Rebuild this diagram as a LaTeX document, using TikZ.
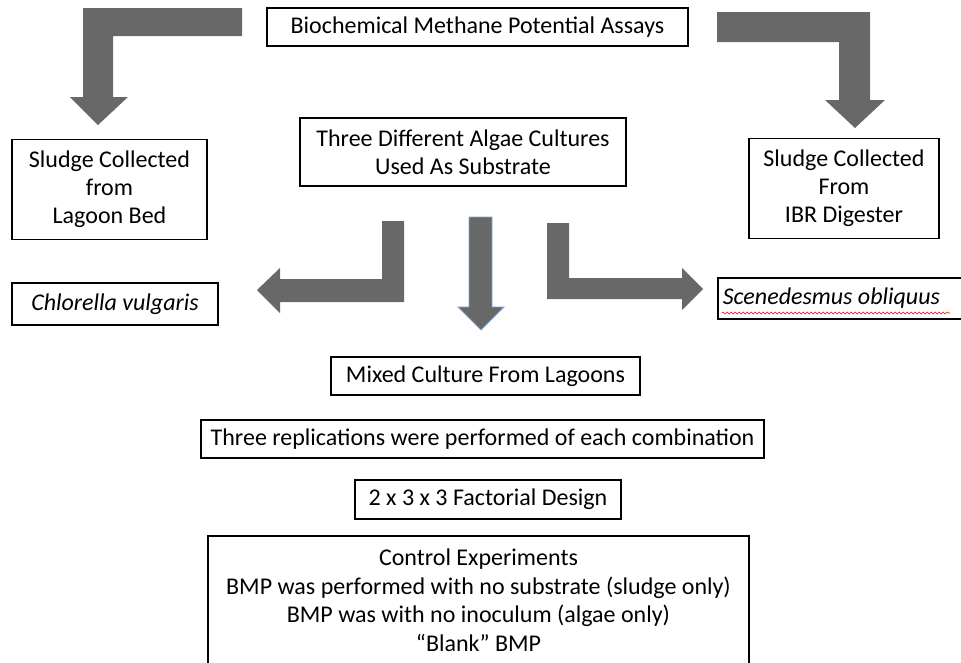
\documentclass[tikz,border=0pt]{standalone}
\usepackage{fontspec}
\setmainfont{Carlito}
\usetikzlibrary{decorations.pathmorphing}
\definecolor{arrowgray}{HTML}{686868}
\definecolor{arrowedge}{HTML}{7FA6D6}
\begin{document}
\begin{tikzpicture}[x=1pt,y=-1pt,
  box/.style={draw=black, line width=1.6pt, fill=white, align=center, inner sep=0pt,
    font=\fontsize{24}{28}\selectfont},
  fatarrow/.style={fill=arrowgray, draw=none}]
\clip (0,0) rectangle (961,662);
\fill[white] (0,0) rectangle (961,662);
% block arrows
\path[fatarrow] (242,8) -- (83,8) -- (83,97) -- (70,97) -- (98,125) -- (128,97) -- (113,97) -- (113,36) -- (242,36) -- cycle;
\path[fatarrow] (717,12) -- (870,12) -- (870,100) -- (885,100) -- (855,128) -- (825,100) -- (839,100) -- (839,42) -- (717,42) -- cycle;
\path[fatarrow] (382,221) -- (404,221) -- (404,302) -- (280,302) -- (280,313) -- (257,290) -- (280,268) -- (280,279) -- (382,279) -- cycle;
\path[fatarrow, draw=arrowedge, line width=0.8pt] (469,217) -- (492,217) -- (492,307) -- (504,307) -- (481,330) -- (458,307) -- (469,307) -- cycle;
\path[fatarrow] (547,223) -- (569,223) -- (569,278) -- (682,278) -- (682,268) -- (703,289) -- (682,310) -- (682,299) -- (547,299) -- cycle;
% boxes
\node[box, minimum width=421pt, minimum height=38pt] (bmp) at (477.5,27) {Biochemical Methane Potential Assays};
\node[box, minimum width=195pt, minimum height=100pt] (lagoon) at (109.5,189.5) {Sludge Collected\\from\\Lagoon Bed};
\node[box, minimum width=326pt, minimum height=68pt] (algae) at (463,152) {Three Different Algae Cultures\\Used As Substrate};
\node[box, minimum width=190pt, minimum height=100pt] (ibr) at (844,188.5) {Sludge Collected\\From\\IBR Digester};
\node[box, minimum width=206pt, minimum height=42pt] (chlor) at (115,304) {\itshape Chlorella vulgaris};
\node[box, anchor=west, minimum height=41pt, inner xsep=5pt, align=left] (scene) at (717,298.5) {\itshape Scenedesmus obliquus\hspace*{30pt}};
\draw[red, line width=0.6pt, decorate, decoration={snake, amplitude=0.9pt, segment length=4pt}] (722,313) -- (950,313);
\node[box, minimum width=309pt, minimum height=38pt] (mixed) at (485.5,376) {Mixed Culture From Lagoons};
\node[box, minimum width=563pt, minimum height=38pt] (rep) at (482.5,439) {Three replications were performed of each combination};
\node[box, minimum width=266pt, minimum height=39pt] (fact) at (488,499.5) {2 x 3 x 3 Factorial Design};
\node[box, anchor=north, minimum width=541pt, inner ysep=13pt, font=\fontsize{24}{28.7}\selectfont] (ctrl) at (478.5,535) {Control Experiments\\BMP was performed with no substrate (sludge only)\\BMP was with no inoculum (algae only)\\“Blank” BMP};
\end{tikzpicture}
\end{document}
